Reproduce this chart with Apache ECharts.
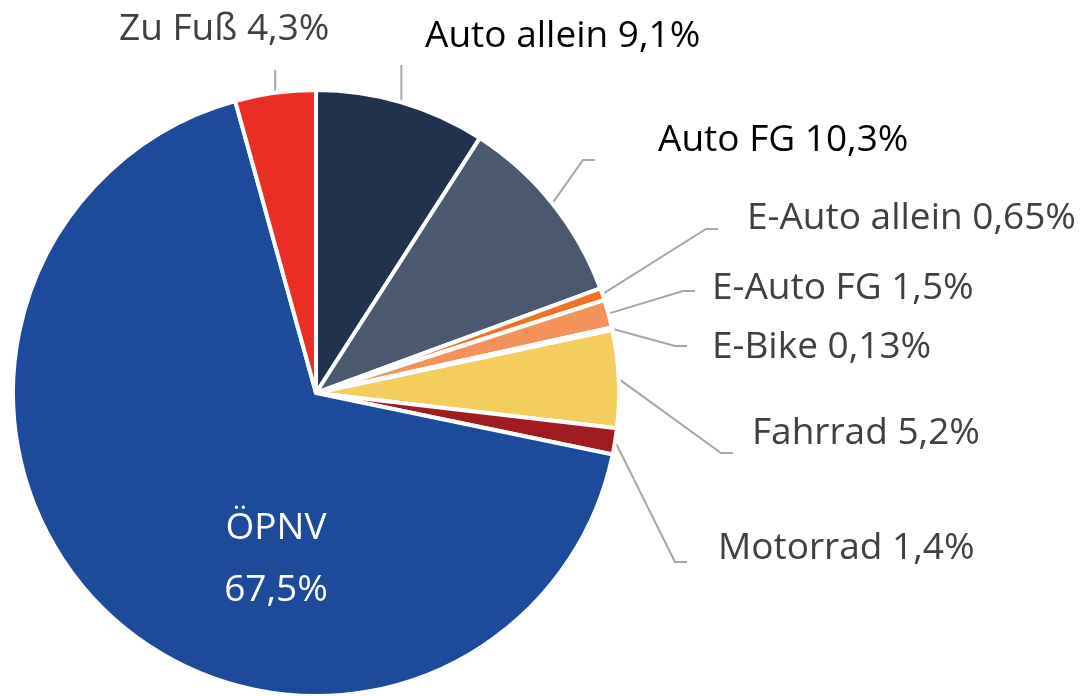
<!DOCTYPE html>
<html>
<head>
<meta charset="utf-8">
<script src="https://cdn.jsdelivr.net/npm/echarts@6/dist/echarts.min.js"></script>
<style>
  html, body { margin: 0; padding: 0; background: #fff; }
  #chart { width: 1082px; height: 696px; }
</style>
</head>
<body>
<div id="chart"></div>
<script>
// Anteile der Verkehrsmittel (%)
const categories = ['Auto allein', 'Auto FG', 'E-Auto allein', 'E-Auto FG', 'E-Bike', 'Fahrrad', 'Motorrad', 'ÖPNV', 'Zu Fuß'];
const shares = [9.1, 10.3, 0.65, 1.5, 0.13, 5.2, 1.4, 67.5, 4.3];

const colors = ['#21324f', '#4a5870', '#f07124', '#f5925b', '#f7b88a', '#f5cd5c', '#a11c20', '#1c4b9b', '#eb2e24'];
const labelColors = ['#000', '#000', '#404040', '#404040', '#404040', '#404040', '#404040', '#fff', '#404040'];

// label layout: [text x, text y, line end x, line y, mode]
// 'side' = elbow line ending left of the text, 'up' = vertical line below the text
const labelAnchors = [
  [425, 36, 0, 65, 'up'],
  [658, 140, 595, 160, 'side'],
  [747, 218, 718, 229, 'side'],
  [712, 288, 695, 291, 'side'],
  [712, 347, 687, 346, 'side'],
  [752, 433, 733, 453, 'side'],
  [718, 548, 687, 562, 'side'],
  [276, 559, 0, 0, 'inside'],
  [119, 29, 0, 70, 'up']
];

const fmt = v => String(v).replace('.', ',') + '%';

const chart = echarts.init(document.getElementById('chart'));

const seriesData = categories.map((name, i) => {
  const item = {
    name,
    value: shares[i],
    itemStyle: { color: colors[i] },
    label: { color: labelColors[i] }
  };
  if (labelAnchors[i][4] === 'inside') {
    item.label.formatter = name + '\n' + fmt(shares[i]);
    item.label.lineHeight = 62;
    item.labelLine = { show: false };
  }
  return item;
});

chart.setOption({
  animation: false,
  series: [{
    type: 'pie',
    center: [316, 393],
    radius: [0, 303],
    startAngle: 90,
    clockwise: true,
    avoidLabelOverlap: false,
    minAngle: 0,
    data: seriesData,
    itemStyle: { borderColor: '#fff', borderWidth: 4 },
    label: {
      show: true,
      position: 'outside',
      fontFamily: 'Open Sans',
      fontSize: 37,
      formatter: p => p.name + ' ' + fmt(p.value)
    },
    labelLine: {
      show: true,
      length: 20,
      length2: 12,
      lineStyle: { color: '#a6a6a6', width: 2 }
    },
    labelLayout: params => {
      const a = labelAnchors[params.dataIndex];
      if (a[4] === 'inside') {
        return { x: a[0], y: a[1], align: 'center', verticalAlign: 'middle' };
      }
      const p0 = params.labelLinePoints ? params.labelLinePoints[0] : [0, 0];
      let pts;
      if (a[4] === 'up') {
        pts = [p0, [p0[0], a[3]], [p0[0], a[3]]];
      } else {
        pts = [p0, [a[2] - 12, a[3]], [a[2], a[3]]];
      }
      return {
        x: a[0], y: a[1], align: 'left', verticalAlign: 'middle',
        labelLinePoints: pts
      };
    }
  }]
});

window.addEventListener('resize', () => {
  chart.resize();
});
</script>
</body>
</html>
